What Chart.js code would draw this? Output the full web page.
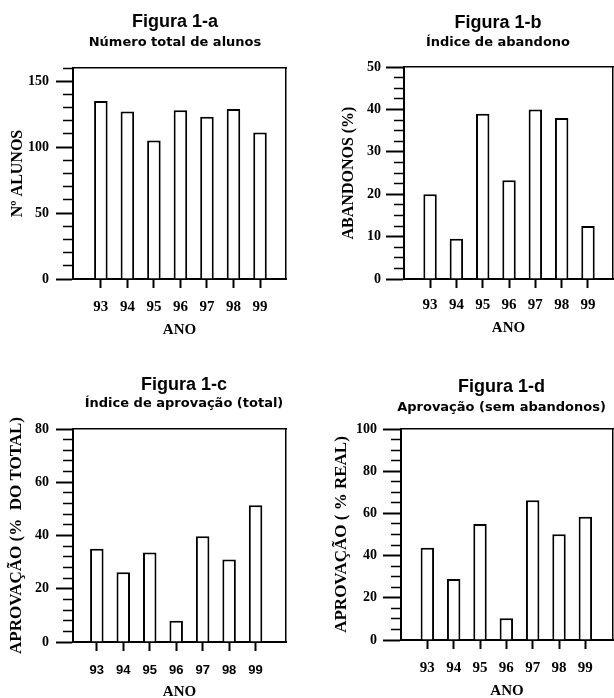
<!DOCTYPE html>
<html>
<head>
<meta charset="utf-8">
<script src="https://cdn.jsdelivr.net/npm/chart.js@4.4.0/dist/chart.umd.min.js"></script>
<style>
  html, body { margin: 0; padding: 0; background: #fff; overflow: hidden; }
  #page { position: relative; width: 614px; height: 698px; overflow: hidden; background: #fff; }
  canvas { position: absolute; }
</style>
</head>
<body>
<div id="page">
  <canvas id="figA" width="350" height="349" style="left:0;top:0"></canvas>
  <canvas id="figB" width="382" height="349" style="left:307px;top:0"></canvas>
  <canvas id="figC" width="368" height="360" style="left:0;top:349px"></canvas>
  <canvas id="figD" width="389" height="360" style="left:307px;top:349px"></canvas>
</div>
<script>
// Anos (eixo x comum as quatro figuras)
const anos = [93, 94, 95, 96, 97, 98, 99];

const totalAlunos = [135, 127, 105, 128, 123, 129, 111];
const abandonos = [20, 9.5, 39, 23.3, 40, 38, 12.5];
const aprovacaoTotal = [35, 26.2, 33.6, 8, 39.7, 31, 51.4];
const aprovacaoReal = [43.7, 28.9, 55, 10.3, 66.2, 50.1, 58.4];

// Etiquetas do eixo y de cada figura
const ticksA = [0, 50, 100, 150];
const ticksB = [0, 10, 20, 30, 40, 50];
const ticksC = [0, 20, 40, 60, 80];
const ticksD = [0, 20, 40, 60, 80, 100];

const serif = 'Liberation Serif';

Chart.defaults.color = '#000';

// Constroi uma figura (grafico de barras com moldura e tracos no eixo y)
function buildFigure(canvasId, o) {
  const minorGap = o.tickLen - 10;
  return new Chart(document.getElementById(canvasId), {
    type: 'bar',
    data: {
      datasets: [{
        data: anos.map((a, i) => ({x: a, y: o.values[i]})),
        backgroundColor: '#fff',
        borderColor: '#000',
        borderWidth: 2,
        categoryPercentage: 1,
        barPercentage: 0.51
      }]
    },
    options: {
      responsive: false,
      animation: false,
      events: [],
      layout: { padding: 0 },
      plugins: {
        legend: { display: false },
        tooltip: { enabled: false },
        title: {
          display: true, text: o.title, color: '#000',
          font: { family: 'Liberation Sans', size: 18, weight: 'bold' },
          padding: { top: o.titleTop, bottom: 0 }
        },
        subtitle: {
          display: true, text: o.subtitle, color: '#000',
          font: { family: 'DejaVu Sans', size: 13, weight: 'bold' },
          padding: { top: o.subTop, bottom: o.subBottom }
        }
      },
      scales: {
        x: {
          type: 'linear', min: o.xMin, max: o.xMax, offset: false,
          afterBuildTicks: s => { s.ticks = anos.map(v => ({value: v})); },
          afterFit: s => { s.height = o.xHeight; },
          grid: { display: true, offset: false, drawOnChartArea: false, tickLength: 9, tickWidth: 2, tickColor: '#000' },
          border: { color: '#000', width: 2 },
          ticks: { color: '#000', padding: o.xTickPad, font: o.xFont, maxRotation: 0, autoSkip: false },
          title: {
            display: true, text: 'ANO', color: '#000',
            font: { family: serif, size: 15, weight: 'bold' },
            padding: { top: 0, bottom: o.anoBottom }
          }
        },
        y: {
          min: 0, max: o.yMax,
          afterFit: s => { s.width = o.yWidth; },
          grid: {
            display: true, drawOnChartArea: false, tickLength: o.tickLen, tickColor: '#000',
            tickWidth: c => o.yLabels.includes(c.tick.value) ? 2 : 1.5,
            tickBorderDash: c => o.yLabels.includes(c.tick.value) ? [] : [0, minorGap, 12, 100]
          },
          border: { color: '#000', width: 2 },
          ticks: {
            stepSize: o.yMinor, autoSkip: false, padding: o.yLabelPad, color: '#000',
            font: { family: serif, size: 14, weight: 'bold' },
            callback: v => o.yLabels.includes(v) ? v : ''
          },
          title: {
            display: true, text: o.yTitle, color: '#000',
            font: { family: serif, size: o.yTitleSize, weight: 'bold' },
            padding: { top: o.yTitlePad, bottom: 0 }
          }
        },
        // moldura superior e direita
        x2: {
          position: 'top', type: 'linear',
          afterFit: s => { s.height = 0; },
          grid: { display: false, drawTicks: false },
          ticks: { display: false },
          border: { display: true, color: '#000', width: 1.5 }
        },
        y2: {
          position: 'right', type: 'linear',
          afterFit: s => { s.width = o.y2Width; },
          grid: { display: false, drawTicks: false },
          ticks: { display: false },
          border: { display: true, color: '#000', width: 1.5 }
        }
      }
    }
  });
}

const serifTicks = { family: serif, size: 15, weight: 'bold' };

buildFigure('figA', {
  title: 'Figura 1-a', subtitle: 'Número total de alunos', yTitle: 'Nº ALUNOS', yTitleSize: 16,
  values: totalAlunos, yLabels: ticksA, yMax: 160, yMinor: 10,
  xMin: 91.95, xMax: 99.98, xFont: serifTicks,
  titleTop: 11.2, subTop: 2.4, subBottom: 17.2,
  yWidth: 73, y2Width: 64, tickLen: 17, yTitlePad: 8.4, yLabelPad: 7,
  xHeight: 70, xTickPad: 10, anoBottom: 10
});

buildFigure('figB', {
  title: 'Figura 1-b', subtitle: 'Índice de abandono', yTitle: 'ABANDONOS (%)', yTitleSize: 16,
  values: abandonos, yLabels: ticksB, yMax: 50, yMinor: 2.5,
  xMin: 92.01, xMax: 99.95, xFont: serifTicks,
  titleTop: 12.2, subTop: 1.4, subBottom: 16.2,
  yWidth: 97, y2Width: 76, tickLen: 18, yTitlePad: 32.4, yLabelPad: 5,
  xHeight: 70, xTickPad: 8, anoBottom: 12
});

buildFigure('figC', {
  title: 'Figura 1-c', subtitle: 'Índice de aprovação (total)', yTitle: 'APROVAÇÃO (%  DO TOTAL)', yTitleSize: 17,
  values: aprovacaoTotal, yLabels: ticksC, yMax: 80, yMinor: 4,
  xMin: 92.1, xMax: 100.15, xFont: { family: 'Liberation Sans', size: 13, weight: 'bold' },
  titleTop: 25.2, subTop: 0.4, subBottom: 17.2,
  yWidth: 73, y2Width: 82, tickLen: 17, yTitlePad: 6.8, yLabelPad: 7,
  xHeight: 67, xTickPad: 12, anoBottom: 8
});

buildFigure('figD', {
  title: 'Figura 1-d', subtitle: 'Aprovação (sem abandonos)', yTitle: 'APROVAÇÃO ( % REAL)', yTitleSize: 17,
  values: aprovacaoReal, yLabels: ticksD, yMax: 100, yMinor: 5,
  xMin: 92, xMax: 100.05, xFont: serifTicks,
  titleTop: 27.2, subTop: 2.4, subBottom: 13.2,
  yWidth: 94, y2Width: 83, tickLen: 18, yTitlePad: 24.8, yLabelPad: 6,
  xHeight: 69, xTickPad: 10, anoBottom: 9
});
</script>
</body>
</html>
